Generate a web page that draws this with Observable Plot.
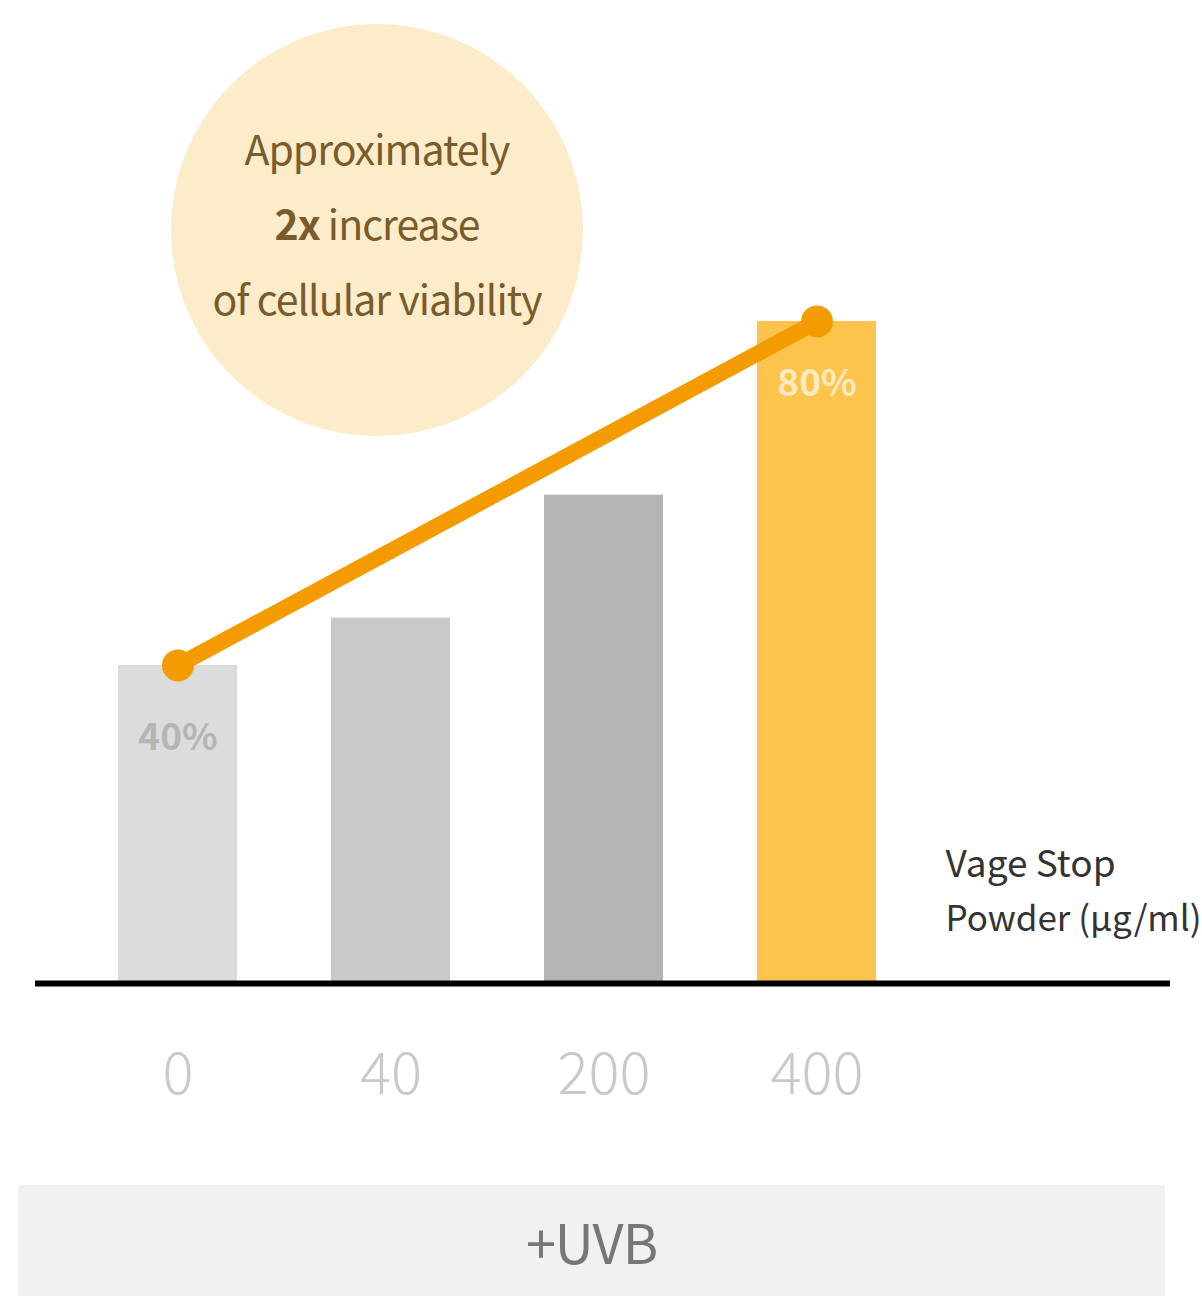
<!DOCTYPE html>
<html>
<head>
<meta charset="utf-8">
<script src="https://cdn.jsdelivr.net/npm/d3@7"></script>
<script src="https://cdn.jsdelivr.net/npm/@observablehq/plot@0.6"></script>
<style>
  html, body { margin: 0; padding: 0; background: #fff; }
  #wrap { position: relative; width: 1202px; height: 1296px; overflow: hidden; font-family: "Noto Sans CJK KR", "Noto Sans", sans-serif; }
  #bubble {
    position: absolute; left: 171px; top: 24px; width: 412px; height: 412px; border-radius: 50%;
    background: #fdecc9; color: #7a5b2b; font-size: 41px; letter-spacing: -1px; font-weight: 400;
    display: flex; flex-direction: column; align-items: center; justify-content: center; line-height: 75px;
    box-sizing: border-box; padding-bottom: 16px;
  }
  #bubble b { font-weight: 700; }
  #uvb {
    position: absolute; left: 18px; top: 1185px; width: 1147px; height: 111px; background: #f1f1f1;
    display: flex; align-items: center; justify-content: center; color: #777; font-size: 54px; letter-spacing: -1px;
  }
  g[aria-label="x-axis tick label"] { color: #c9c9c9; }
</style>
</head>
<body>
<div id="wrap">
  <div id="chart"></div>
  <div id="bubble"><div>Approximately</div><div><b>2x</b> increase</div><div>of cellular viability</div></div>
  <div id="uvb">+UVB</div>
</div>
<script>
// Vage Stop Powder dose (µg/ml)
const doses = ["0", "40", "200", "400"];
// cellular viability (%)
const viability = [40, 45.5, 59.8, 80];
const barColors = ["#dcdcdc", "#c8c8c8", "#b4b4b4", "#fcc34d"];
const unitLine1 = "Vage Stop";
const unitLine2 = "Powder (µg/ml)";

const data = doses.map((d, i) => ({dose: d, value: viability[i]}));
const ends = [data[0], data[data.length - 1]];

const chart = Plot.plot({
  width: 1202,
  height: 1185,
  marginLeft: 35,
  marginRight: 32,
  marginTop: 321,
  marginBottom: 202,
  style: {fontFamily: '"Noto Sans CJK KR", "Noto Sans", sans-serif', background: "transparent", overflow: "visible"},
  x: {domain: doses, paddingInner: 0.44, paddingOuter: 0.88, align: 0.22, label: null},
  y: {domain: [3, 80], clamp: true, axis: null},
  color: {domain: doses, range: barColors},
  marks: [
    Plot.barY(data, {x: "dose", y: "value", fill: "dose"}),
    Plot.ruleY([0], {stroke: "#000", strokeWidth: 6}),
    Plot.axisX({tickSize: 0, tickPadding: 69, fontSize: 58, label: null, fontWeight: 300}),
    Plot.text([data[0]], {x: "dose", y: "value", text: d => `${d.value}%`, dy: 73, fill: "#b5b5b5", fontSize: 37, fontWeight: 700, letterSpacing: -2}),
    Plot.text([data[data.length - 1]], {x: "dose", y: "value", text: d => `${d.value}%`, dy: 63, fill: "#feeac0", fontSize: 37, fontWeight: 700, letterSpacing: -2}),
    Plot.line(ends, {x: "dose", y: "value", stroke: "#f49b00", strokeWidth: 16, strokeLinecap: "round"}),
    Plot.dot(ends, {x: "dose", y: "value", r: 16, fill: "#f49b00"}),
    Plot.text([unitLine1], {text: d => d, frameAnchor: "bottom-right", textAnchor: "start", lineAnchor: "middle", dx: -225, dy: -118, fontSize: 37, fill: "#333", letterSpacing: -1}),
    Plot.text([unitLine2], {text: d => d, frameAnchor: "bottom-right", textAnchor: "start", lineAnchor: "middle", dx: -225, dy: -64, fontSize: 35, fill: "#333", letterSpacing: -1.5})
  ]
});
document.getElementById("chart").appendChild(chart);
</script>
</body>
</html>
